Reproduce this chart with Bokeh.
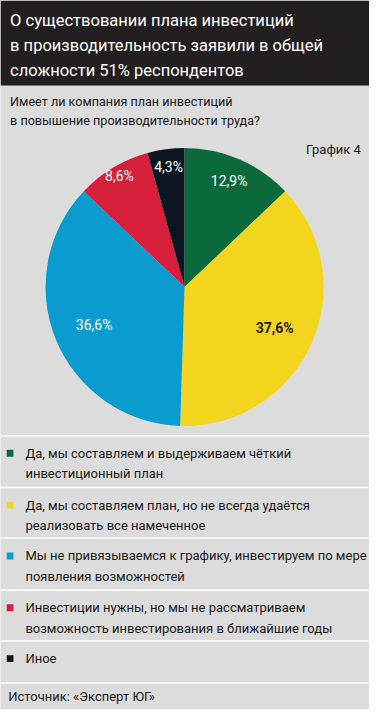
import math
from bokeh.plotting import figure
from bokeh.models import Range1d, ColumnDataSource
from bokeh.core.properties import value
from bokeh.embed import file_html
from bokeh.resources import INLINE

# ---- data ----
title_lines = ["О существовании плана инвестиций",
               "в производительность заявили в общей",
               "сложности 51% респондентов"]
subtitle_lines = ["Имеет ли компания план инвестиций",
                  "в повышение производительности труда?"]
chart_tag = "График 4"
categories = ["Да, мы составляем и выдерживаем чёткий\nинвестиционный план",
              "Да, мы составляем план, но не всегда удаётся\nреализовать все намеченное",
              "Мы не привязываемся к графику, инвестируем по мере\nпоявления возможностей",
              "Инвестиции нужны, но мы не рассматриваем\nвозможность инвестирования в ближайшие годы",
              "Иное"]
shares = [12.9, 37.6, 36.6, 8.6, 4.3]
share_labels = ["12,9%", "37,6%", "36,6%", "8,6%", "4,3%"]
source_text = "Источник: «Эксперт ЮГ»"

colors = ["#0b6a3c", "#f3d51e", "#0a9ccf", "#d71f3b", "#0c1620"]
label_colors = ["#ffffff", "#1a1a1a", "#ffffff", "#ffffff", "#ffffff"]
label_styles = ["normal", "bold", "normal", "normal", "normal"]
label_radius = [118, 103, 102, 132, 124]

FONT = value("Roboto")
BG = "#dcdcdc"
H = 725.0

def Y(y):
    return H - y

p = figure(width=369, height=709, x_range=Range1d(0, 385), y_range=Range1d(0, H),
           output_backend="svg", toolbar_location=None, min_border=0)
p.axis.visible = False
p.grid.visible = False
p.outline_line_color = None
p.background_fill_color = BG
p.border_fill_color = BG

# title band
p.quad(left=[0], right=[385], bottom=[Y(87)], top=[Y(0)], fill_color="#231f20", line_color=None)
p.text(x=[10] * 3, y=[Y(20), Y(46), Y(72)], text=title_lines, text_font=FONT,
       text_font_size="16.5px", text_color="#ffffff", text_baseline="middle", text_align="left")
p.text(x=[10] * 2, y=[Y(103), Y(123)], text=subtitle_lines, text_font=FONT,
       text_font_size="12.6px", text_color="#1a1a1a", text_baseline="middle", text_align="left")
p.text(x=[376], y=[Y(152)], text=[chart_tag], text_font=FONT,
       text_font_size="13px", text_color="#1a1a1a", text_baseline="middle", text_align="right")

# pie
cx, cy, r = 192, 293, 145
total = sum(shares)
starts, ends, mids = [], [], []
acc = 0.0
for s in shares:
    a0 = math.pi / 2 - acc / total * 2 * math.pi
    acc += s
    a1 = math.pi / 2 - acc / total * 2 * math.pi
    starts.append(a0)
    ends.append(a1)
    mids.append((a0 + a1) / 2)
src = ColumnDataSource(dict(start=starts, end=ends, color=colors))
p.wedge(x=cx, y=Y(cy), radius=r, start_angle="start", end_angle="end", direction="clock",
        fill_color="color", line_color=None, source=src)

lx = [cx + lr * math.cos(m) for lr, m in zip(label_radius, mids)]
ly = [Y(cy) + lr * math.sin(m) for lr, m in zip(label_radius, mids)]
lsrc = ColumnDataSource(dict(x=lx, y=ly, t=share_labels, c=label_colors, st=label_styles))
p.text(x="x", y="y", text="t", text_color="c", text_font_style="st", source=lsrc,
       text_font=FONT, text_font_size="14px", text_align="center", text_baseline="middle")

# legend
sep_y = [445, 498, 550, 603, 655, 698]
p.segment(x0=[0] * len(sep_y), x1=[385] * len(sep_y), y0=[Y(v) for v in sep_y],
          y1=[Y(v) for v in sep_y], line_color="#ffffff", line_width=1.5)
item_y = [sep_y[i] + 18 for i in range(len(categories))]
p.rect(x=[10] * len(categories), y=[Y(v) for v in item_y], width=7, height=7,
       fill_color=colors, line_color=None)
tx, ty, tt = [], [], []
for cat, yy in zip(categories, item_y):
    for j, line in enumerate(cat.split("\n")):
        tx.append(26)
        ty.append(Y(yy + 21 * j))
        tt.append(line)
p.text(x=tx, y=ty, text=tt, text_font=FONT, text_font_size="13px", text_color="#1a1a1a",
       text_baseline="middle", text_align="left")
p.text(x=[8], y=[Y(712)], text=[source_text], text_font=FONT, text_font_size="13px",
       text_color="#1a1a1a", text_baseline="middle", text_align="left")

open("out.html", "w").write(file_html(p, INLINE))
